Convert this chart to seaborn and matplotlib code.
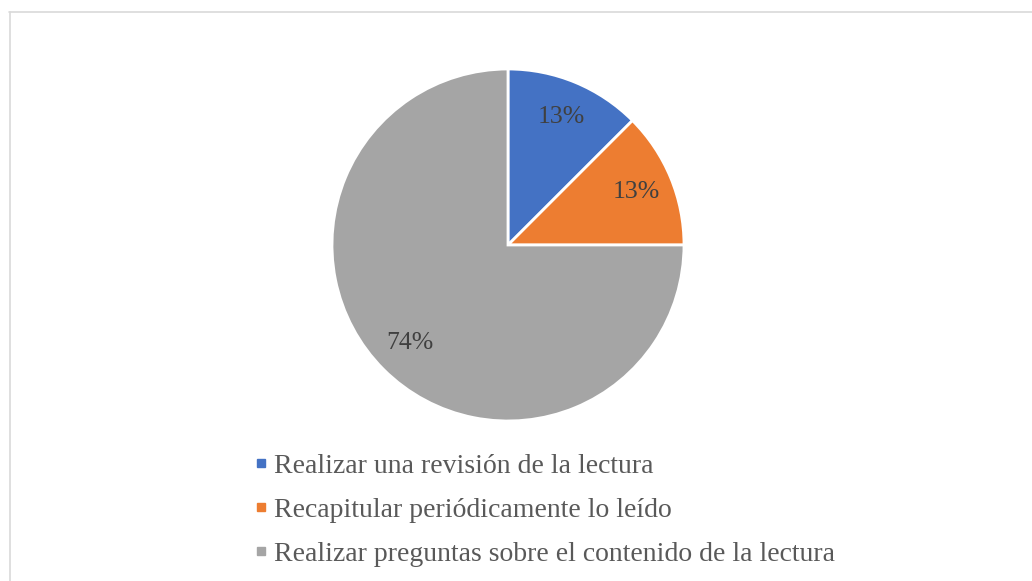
import matplotlib
matplotlib.use("Agg")
import matplotlib.pyplot as plt
import seaborn as sns
from matplotlib.lines import Line2D

# data (slice sizes from the drawn geometry, labels as printed)
labels = [
    "Realizar una revisión de la lectura",
    "Recapitular periódicamente lo leído",
    "Realizar preguntas sobre el contenido de la lectura",
]
values = [12.5, 12.5, 75]
pct_labels = ["13%", "13%", "74%"]
colors = ["#4472C4", "#ED7D31", "#A5A5A5"]

sns.set_theme(style="white")
plt.rcParams["font.family"] = ["Liberation Serif", "DejaVu Serif"]

fig = plt.figure(figsize=(10.32, 5.81), dpi=100)
ax = fig.add_axes([0.3217, 0.2754, 352 / 1032, 352 / 581])

wedges, texts = ax.pie(
    values,
    colors=colors,
    startangle=90,
    counterclock=False,
    labels=pct_labels,
    labeldistance=0.79,
    wedgeprops=dict(edgecolor="white", linewidth=2),
    textprops=dict(fontsize=18.5, color="#404040", va="center"),
)
for t in texts:
    t.set_horizontalalignment("center")
ax.set_xlim(-1, 1)
ax.set_ylim(-1, 1)
ax.set_aspect("equal")
ax.axis("off")

handles = [Line2D([0], [0], marker="s", linestyle="none", markersize=6,
                  markerfacecolor=c, markeredgecolor=c) for c in colors]
fig.legend(handles, labels, loc="center left", bbox_to_anchor=(0.233, 0.122),
           frameon=False, fontsize=20, labelcolor="#595959",
           handlelength=0.5, handletextpad=0.2, labelspacing=0.68, borderpad=0)

# chart area border (light gray)
fig.add_artist(Line2D([9 / 1032, 1.0], [1 - 11.5 / 581, 1 - 11.5 / 581],
                      transform=fig.transFigure, color="#D9D9D9", linewidth=1.2))
fig.add_artist(Line2D([9.5 / 1032, 9.5 / 1032], [0, 1 - 11.5 / 581],
                      transform=fig.transFigure, color="#D9D9D9", linewidth=1.2))

fig.savefig("out.png", dpi=100, facecolor="white")
